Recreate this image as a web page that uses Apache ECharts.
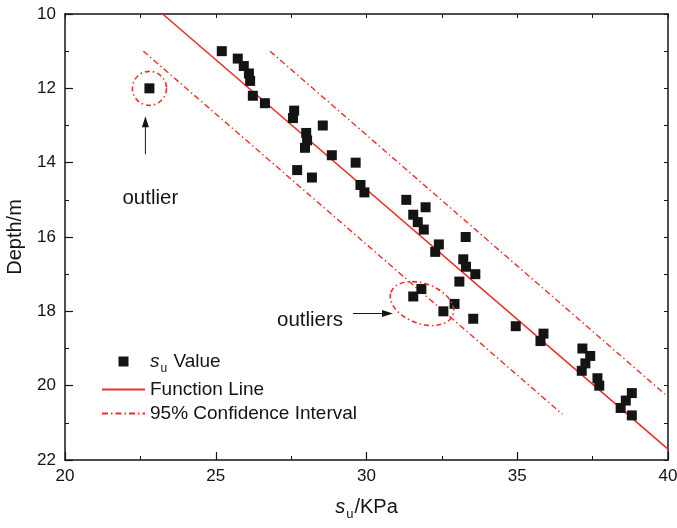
<!DOCTYPE html>
<html>
  <head>
    <meta charset="UTF-8" />
    <title>su vs depth</title>
    <script src="https://cdn.jsdelivr.net/npm/echarts@6/dist/echarts.min.js"></script>
  </head>
  <body style="margin: 0">
    <div id="chart" style="width: 677px; height: 528px"></div>
    <script>
      // measured points: [su (kPa), depth (m)]
      var suValues = [
        [25.2, 11.0], [25.73, 11.2], [25.93, 11.4], [26.1, 11.6], [26.14, 11.8],
        [26.23, 12.2], [26.63, 12.4], [27.6, 12.6], [27.56, 12.8], [28.55, 13.0],
        [28.0, 13.2], [28.03, 13.4], [27.96, 13.6], [28.85, 13.8], [29.64, 14.0],
        [27.7, 14.2], [28.19, 14.4], [29.8, 14.6], [29.93, 14.8], [31.32, 15.0],
        [31.96, 15.2], [31.55, 15.4], [31.7, 15.6], [31.9, 15.8], [33.29, 16.0],
        [32.4, 16.2], [32.28, 16.4], [33.21, 16.6], [33.3, 16.8], [33.61, 17.0],
        [33.08, 17.2], [31.82, 17.4], [31.55, 17.6], [32.92, 17.8], [32.55, 18.0],
        [33.54, 18.2], [34.95, 18.4], [35.87, 18.6], [35.77, 18.8], [37.16, 19.0],
        [37.42, 19.2], [37.26, 19.4], [37.14, 19.6], [37.66, 19.8], [37.72, 20.0],
        [38.8, 20.2], [38.6, 20.4], [38.43, 20.6], [38.8, 20.8],
        [22.8, 12.0]
      ];
      var functionLine = [[23.24, 10.0], [40.0, 21.71]];
      var confidenceLower = [[22.6, 11.0], [36.5, 20.77]];
      var confidenceUpper = [[26.8, 11.0], [39.9, 20.23]];
      var outlierCenter = [22.8, 12.0];
      var outliersCenter = [31.84, 17.79];

      var red = "#e8302b";
      var ink = "#141414";
      var font = "Liberation Sans";

      var chart = echarts.init(document.getElementById("chart"));

      var frame = {
        show: true,
        onZero: false,
        lineStyle: { color: ink, width: 1.5 },
      };
      var squareIcon = "path://M0,0L10,0L10,10L0,10Z";

      var option = {
        backgroundColor: "#fff",
        animation: false,
        textStyle: { fontFamily: font },
        grid: { left: 65, right: 9, top: 14, bottom: 68, outerBoundsMode: "none", containLabel: false },
        legend: {
          orient: "vertical",
          left: 96,
          top: 347,
          padding: 5,
          itemWidth: 43,
          itemHeight: 10,
          itemGap: 5,
          data: [
            { name: "su Value", icon: squareIcon },
            { name: "Function Line", itemStyle: { opacity: 0 } },
            { name: "95% Confidence Interval", itemStyle: { opacity: 0 } },
          ],
          formatter: function (name) {
            if (name === "su Value") return "{i|s}{sub|u} Value";
            return name;
          },
          textStyle: {
            fontFamily: font,
            fontSize: 19,
            color: ink,
            rich: {
              i: { fontFamily: font, fontSize: 19, fontStyle: "italic", color: ink },
              sub: { fontFamily: font, fontSize: 12, color: ink, padding: [15, 1, 0, 1] },
            },
          },
        },
        xAxis: [
          {
            type: "value",
            min: 20,
            max: 40,
            interval: 5,
            position: "bottom",
            axisLine: frame,
            axisTick: { inside: true, length: 8, lineStyle: { color: ink, width: 1.2 } },
            minorTick: { show: true, splitNumber: 2, length: 4, lineStyle: { color: ink } },
            splitLine: { show: false },
            axisLabel: { fontSize: 17, color: ink, margin: 8, fontFamily: font },
            name: "{i|s}{sub|u}/KPa",
            nameLocation: "middle",
            nameGap: 34,
            nameTextStyle: {
              fontSize: 20,
              color: ink,
              fontFamily: font,
              rich: {
                i: { fontFamily: font, fontSize: 20, fontStyle: "italic", color: ink },
                sub: { fontFamily: font, fontSize: 13, color: ink, padding: [14, 1, 0, 1] },
              },
            },
          },
          {
            type: "value",
            min: 20,
            max: 40,
            interval: 2.5,
            position: "top",
            axisLine: frame,
            axisTick: { inside: true, length: 4, lineStyle: { color: ink } },
            axisLabel: { show: false },
            splitLine: { show: false },
          },
        ],
        yAxis: [
          {
            type: "value",
            inverse: true,
            min: 10,
            max: 22,
            interval: 2,
            position: "left",
            axisLine: frame,
            axisTick: { inside: true, length: 8, lineStyle: { color: ink, width: 1.2 } },
            minorTick: { show: true, splitNumber: 2, length: 4, lineStyle: { color: ink } },
            splitLine: { show: false },
            axisLabel: { fontSize: 17, color: ink, margin: 9, fontFamily: font },
            name: "Depth/m",
            nameLocation: "middle",
            nameGap: 40,
            nameTextStyle: { fontSize: 20, color: ink, fontFamily: font },
          },
          {
            type: "value",
            inverse: true,
            min: 10,
            max: 22,
            interval: 1,
            position: "right",
            axisLine: frame,
            axisTick: { inside: true, length: 4, lineStyle: { color: ink } },
            axisLabel: { show: false },
            splitLine: { show: false },
          },
        ],
        series: [
          {
            name: "su Value",
            type: "scatter",
            symbol: "rect",
            symbolSize: 10,
            itemStyle: { color: ink, opacity: 1 },
            data: suValues,
            z: 3,
          },
          {
            name: "Function Line",
            type: "line",
            symbol: "none",
            lineStyle: { color: red, width: 1.6 },
            itemStyle: { color: red },
            data: functionLine,
            z: 2,
          },
          {
            name: "95% Confidence Interval",
            type: "line",
            symbol: "none",
            connectNulls: false,
            lineStyle: { color: red, width: 1.4, type: [6, 3, 1.5, 3] },
            itemStyle: { color: red },
            data: confidenceLower.concat([["-", "-"]], confidenceUpper),
            z: 2,
          },
        ],
      };
      chart.setOption(option);

      // annotations anchored to data positions
      var p1 = chart.convertToPixel({ xAxisIndex: 0, yAxisIndex: 0 }, outlierCenter);
      var p2 = chart.convertToPixel({ xAxisIndex: 0, yAxisIndex: 0 }, outliersCenter);
      var dashDot = { stroke: red, lineWidth: 1.6, lineDash: [5, 3, 1.5, 3], fill: null };
      var labelFont = "20.5px " + font;
      chart.setOption({
        graphic: [
          { type: "circle", shape: { cx: p1[0], cy: p1[1], r: 17 }, style: dashDot, z: 10 },
          { type: "line", shape: { x1: p1[0] - 4, y1: p1[1] + 66, x2: p1[0] - 4, y2: p1[1] + 36 }, style: { stroke: ink, lineWidth: 1 } },
          { type: "polygon", shape: { points: [[p1[0] - 4, p1[1] + 28], [p1[0] - 7.5, p1[1] + 39], [p1[0] - 0.5, p1[1] + 39]] }, style: { fill: ink } },
          { type: "text", x: p1[0] - 27, y: p1[1] + 110, style: { text: "outlier", font: labelFont, fill: ink, verticalAlign: "middle" } },
          {
            type: "ellipse",
            x: p2[0],
            y: p2[1],
            rotation: -0.35,
            shape: { cx: 0, cy: 0, rx: 33, ry: 20 },
            style: dashDot,
            z: 10,
          },
          { type: "line", shape: { x1: p2[0] - 69, y1: p2[1] + 10, x2: p2[0] - 38, y2: p2[1] + 10 }, style: { stroke: ink, lineWidth: 1 } },
          { type: "polygon", shape: { points: [[p2[0] - 29, p2[1] + 10], [p2[0] - 40, p2[1] + 6.5], [p2[0] - 40, p2[1] + 13.5]] }, style: { fill: ink } },
          { type: "text", x: p2[0] - 145, y: p2[1] + 17, style: { text: "outliers", font: labelFont, fill: ink, verticalAlign: "middle" } },
        ],
      });
    </script>
  </body>
</html>
